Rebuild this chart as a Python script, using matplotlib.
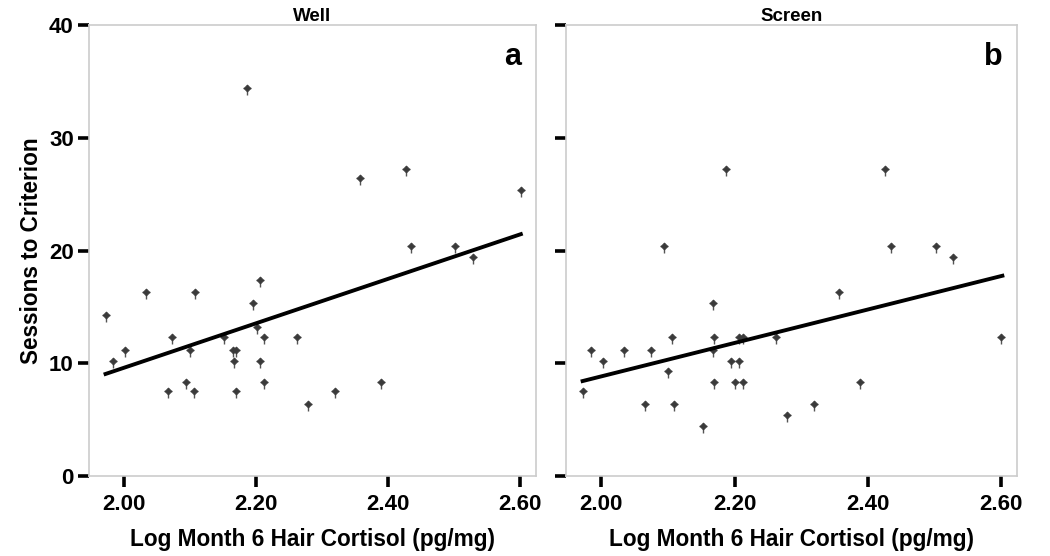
import numpy as np
import matplotlib
matplotlib.use('Agg')
import matplotlib.pyplot as plt

# Well condition: log month 6 hair cortisol vs sessions to criterion
well_x = [2.187, 2.357, 2.427, 2.601, 2.435, 2.502, 2.528,
          1.972, 1.984, 2.001, 2.033, 2.108, 2.073, 2.067, 2.094, 2.106, 2.100,
          2.151, 2.165, 2.169, 2.166, 2.169, 2.195, 2.206, 2.201, 2.212, 2.206,
          2.212, 2.262, 2.279, 2.319, 2.389]
well_y = [34.4, 26.4, 27.2, 25.4, 20.4, 20.4, 19.4,
          14.3, 10.2, 11.2, 16.3, 16.3, 12.3, 7.5, 8.3, 7.5, 11.2,
          12.3, 11.2, 11.2, 10.2, 7.5, 15.3, 17.4, 13.2, 12.3, 10.2,
          8.3, 12.3, 6.4, 7.5, 8.3]
well_fit_x = [1.972, 2.601]
well_fit_y = [9.05, 21.45]

# Screen condition
screen_x = [2.187, 2.426, 2.094, 2.435, 2.502, 2.528,
            1.972, 1.984, 2.002, 2.034, 2.066, 2.074, 2.100, 2.106, 2.109, 2.152,
            2.167, 2.169, 2.167, 2.169, 2.195, 2.201, 2.207, 2.213, 2.207, 2.213,
            2.262, 2.279, 2.320, 2.357, 2.389, 2.600]
screen_y = [27.2, 27.2, 20.4, 20.4, 20.4, 19.4,
            7.5, 11.2, 10.2, 11.2, 6.4, 11.2, 9.3, 12.3, 6.4, 4.4,
            15.3, 12.3, 11.2, 8.3, 10.2, 8.3, 12.3, 12.3, 10.2, 8.3,
            12.3, 5.4, 6.4, 16.3, 8.3, 12.3]
screen_fit_x = [1.972, 2.602]
screen_fit_y = [8.42, 17.76]

titles = ['Well', 'Screen']
letters = ['a', 'b']
xticks = [2.00, 2.20, 2.40, 2.60]
yticks = [0, 10, 20, 30, 40]

plt.rcParams['font.family'] = ['Liberation Sans', 'DejaVu Sans']
plt.rcParams['font.weight'] = 'bold'

fig = plt.figure(figsize=(10.5, 5.56), dpi=100)
ax1 = fig.add_axes([0.0848, 0.1439, 0.4257, 0.8111])
ax2 = fig.add_axes([0.539, 0.1439, 0.4296, 0.8111])

# marker = small diamond with a cross-like stem, longer below
stem_v = [(0, 1.2), (0, -3)]
stem_h = [(-1.2, 0), (1.2, 0)]
panels = [(ax1, well_x, well_y, well_fit_x, well_fit_y),
          (ax2, screen_x, screen_y, screen_fit_x, screen_fit_y)]

for i, (ax, xs, ys, fx, fy) in enumerate(panels):
    ax.scatter(xs, ys, marker=stem_v, s=110, color='#555555', linewidths=1, zorder=3)
    ax.scatter(xs, ys, marker=stem_h, s=40, color='#555555', linewidths=1, zorder=3)
    ax.scatter(xs, ys, marker='D', s=13, color='#3a3a3a', edgecolors='#3a3a3a',
               linewidths=0.5, zorder=4)
    ax.plot(fx, fy, color='black', lw=2.8, zorder=5)
    ax.set_xlim(1.947, 2.624)
    ax.set_ylim(0, 40)
    ax.set_xticks(xticks)
    ax.set_xticklabels(['%.2f' % t for t in xticks])
    ax.set_yticks(yticks)
    for sp in ax.spines.values():
        sp.set_color('#cccccc')
        sp.set_linewidth(1.2)
    ax.tick_params(axis='both', direction='out', length=8, width=2.6, color='black',
                   labelsize=16, pad=5)
    ax.tick_params(axis='y', pad=3)
    ax.set_title(titles[i], fontsize=13.5, fontweight='bold', pad=2)
    ax.text(0.948, 0.928, letters[i], transform=ax.transAxes, fontsize=22,
            fontweight='bold', ha='center', va='center')
    ax.set_xlabel('Log Month 6 Hair Cortisol (pg/mg)', fontsize=16.3,
                  fontweight='bold', labelpad=9)

ax1.set_ylabel('Sessions to Criterion', fontsize=16.3, fontweight='bold', labelpad=4)
ax2.set_yticklabels([])

fig.savefig('out.png', dpi=100)
